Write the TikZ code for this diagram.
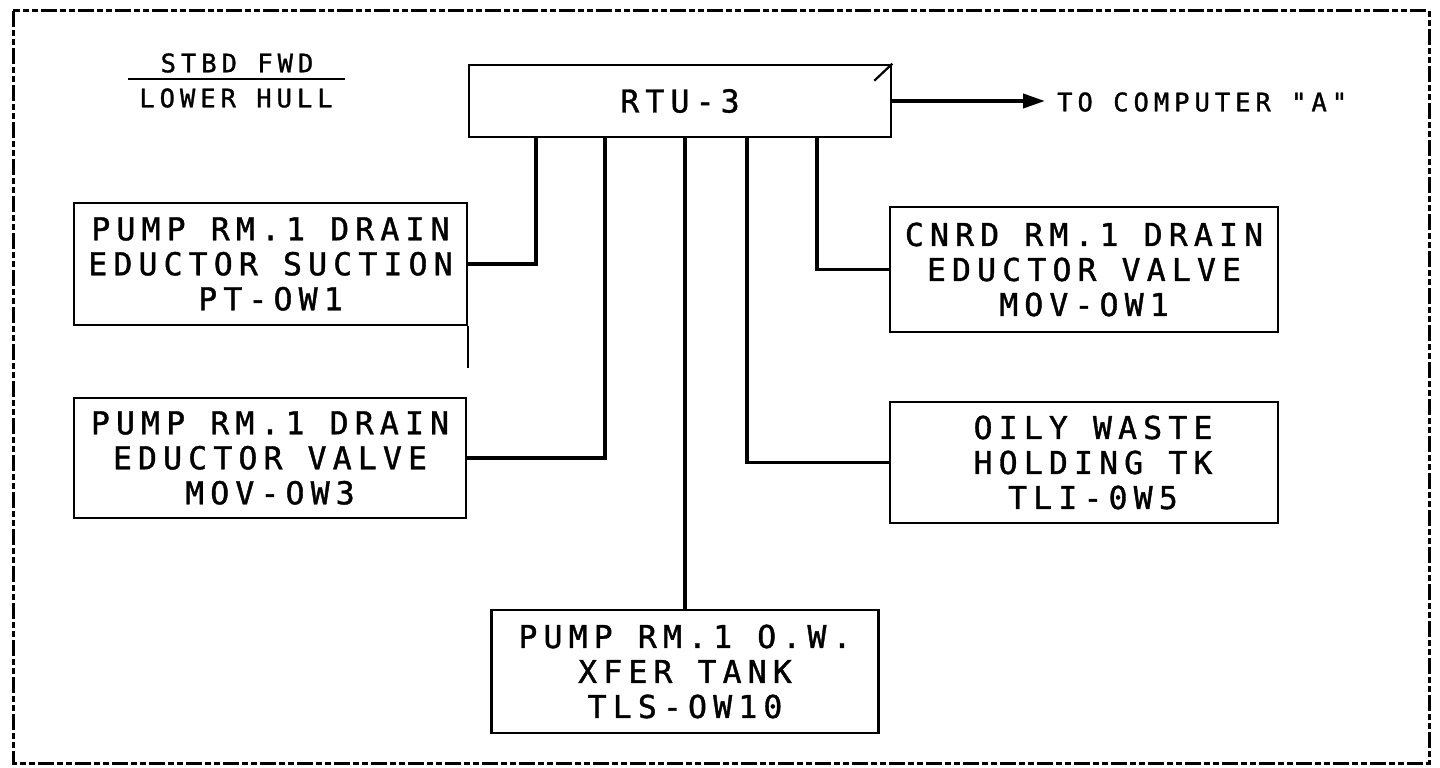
\documentclass[tikz,border=0pt]{standalone}
\usepackage{fontspec}
\usetikzlibrary{arrows.meta,calc}
\newfontfamily\plotfont[LetterSpace=19.5,FakeBold=1.2]{DejaVu Sans Mono}
\newcommand\bigtext{\plotfont\fontsize{31.5}{35}\selectfont}
\newcommand\smalltext{\plotfont\fontsize{25.5}{30}\selectfont}
\begin{document}
\begin{tikzpicture}[x=1pt,y=-1pt,
  blk/.style={draw,line width=2.6pt,rectangle,inner sep=0pt,align=center,font=\bigtext},
  conn/.style={line width=3.8pt},
  lbl/.style={inner sep=0pt,font=\smalltext},
  frame/.style={line width=3pt,dash pattern=on 16pt off 3pt on 6pt off 3pt on 6pt off 3pt}]
\useasboundingbox (0,0) rectangle (1440,768);
\fill[white] (0,0) rectangle (1440,768);
\draw[frame] (13,11) rectangle (1429,763);
% title
\node[lbl] (stbd) at (237,63) {STBD FWD};
\node[lbl] (lh) at (236,98) {LOWER HULL};
\draw[line width=2.6pt] (128,79) -- (345,79);
% RTU
\node[blk,minimum width=422pt,minimum height=72pt] (rtu) at (680,101) {RTU-3};
\draw[line width=2.2pt] (rtu.north east) -- ++(-18,17);
\node[lbl,anchor=west] (tc) at (1057,102) {TO COMPUTER "A"};
\draw[conn,-{Triangle[length=22pt,width=14pt]},shorten >=12pt] (rtu.east) -- (rtu.east -| tc.west);
% left boxes
\node[blk,minimum width=393pt,minimum height=122pt] (b1) at (270.5,264) {PUMP RM.1 DRAIN\\EDUCTOR SUCTION\\PT-OW1};
\node[blk,minimum width=392pt,minimum height=120pt] (b2) at (270,458) {PUMP RM.1 DRAIN\\EDUCTOR VALVE\\MOV-OW3};
\draw[line width=2.2pt] (b1.south east) -- ++(0,42);
% right boxes
\node[blk,minimum width=388pt,minimum height=125pt] (c1) at (1084,269.5) {CNRD RM.1 DRAIN\\EDUCTOR VALVE\\MOV-OW1};
\node[blk,minimum width=388pt,minimum height=121pt] (c2) at (1084,462.5) {\hspace*{18pt}OILY WASTE\\\hspace*{18pt}HOLDING TK\\\hspace*{18pt}TLI-0W5};
% bottom box
\node[blk,minimum width=387pt,minimum height=123pt] (tls) at (685,671.5) {PUMP RM.1 O.W.\\XFER TANK\\TLS-OW10};
% connectors
\draw[conn] (b1.east) -| ($(rtu.south west)+(68,0)$);
\draw[conn] (b2.east) -| ($(rtu.south west)+(137,0)$);
\draw[conn] (tls.north) -- (tls.north |- rtu.south);
\draw[conn] (c2.west) -| ($(rtu.south west)+(279,0)$);
\draw[conn] (c1.west) -| ($(rtu.south west)+(349,0)$);
\end{tikzpicture}
\end{document}
